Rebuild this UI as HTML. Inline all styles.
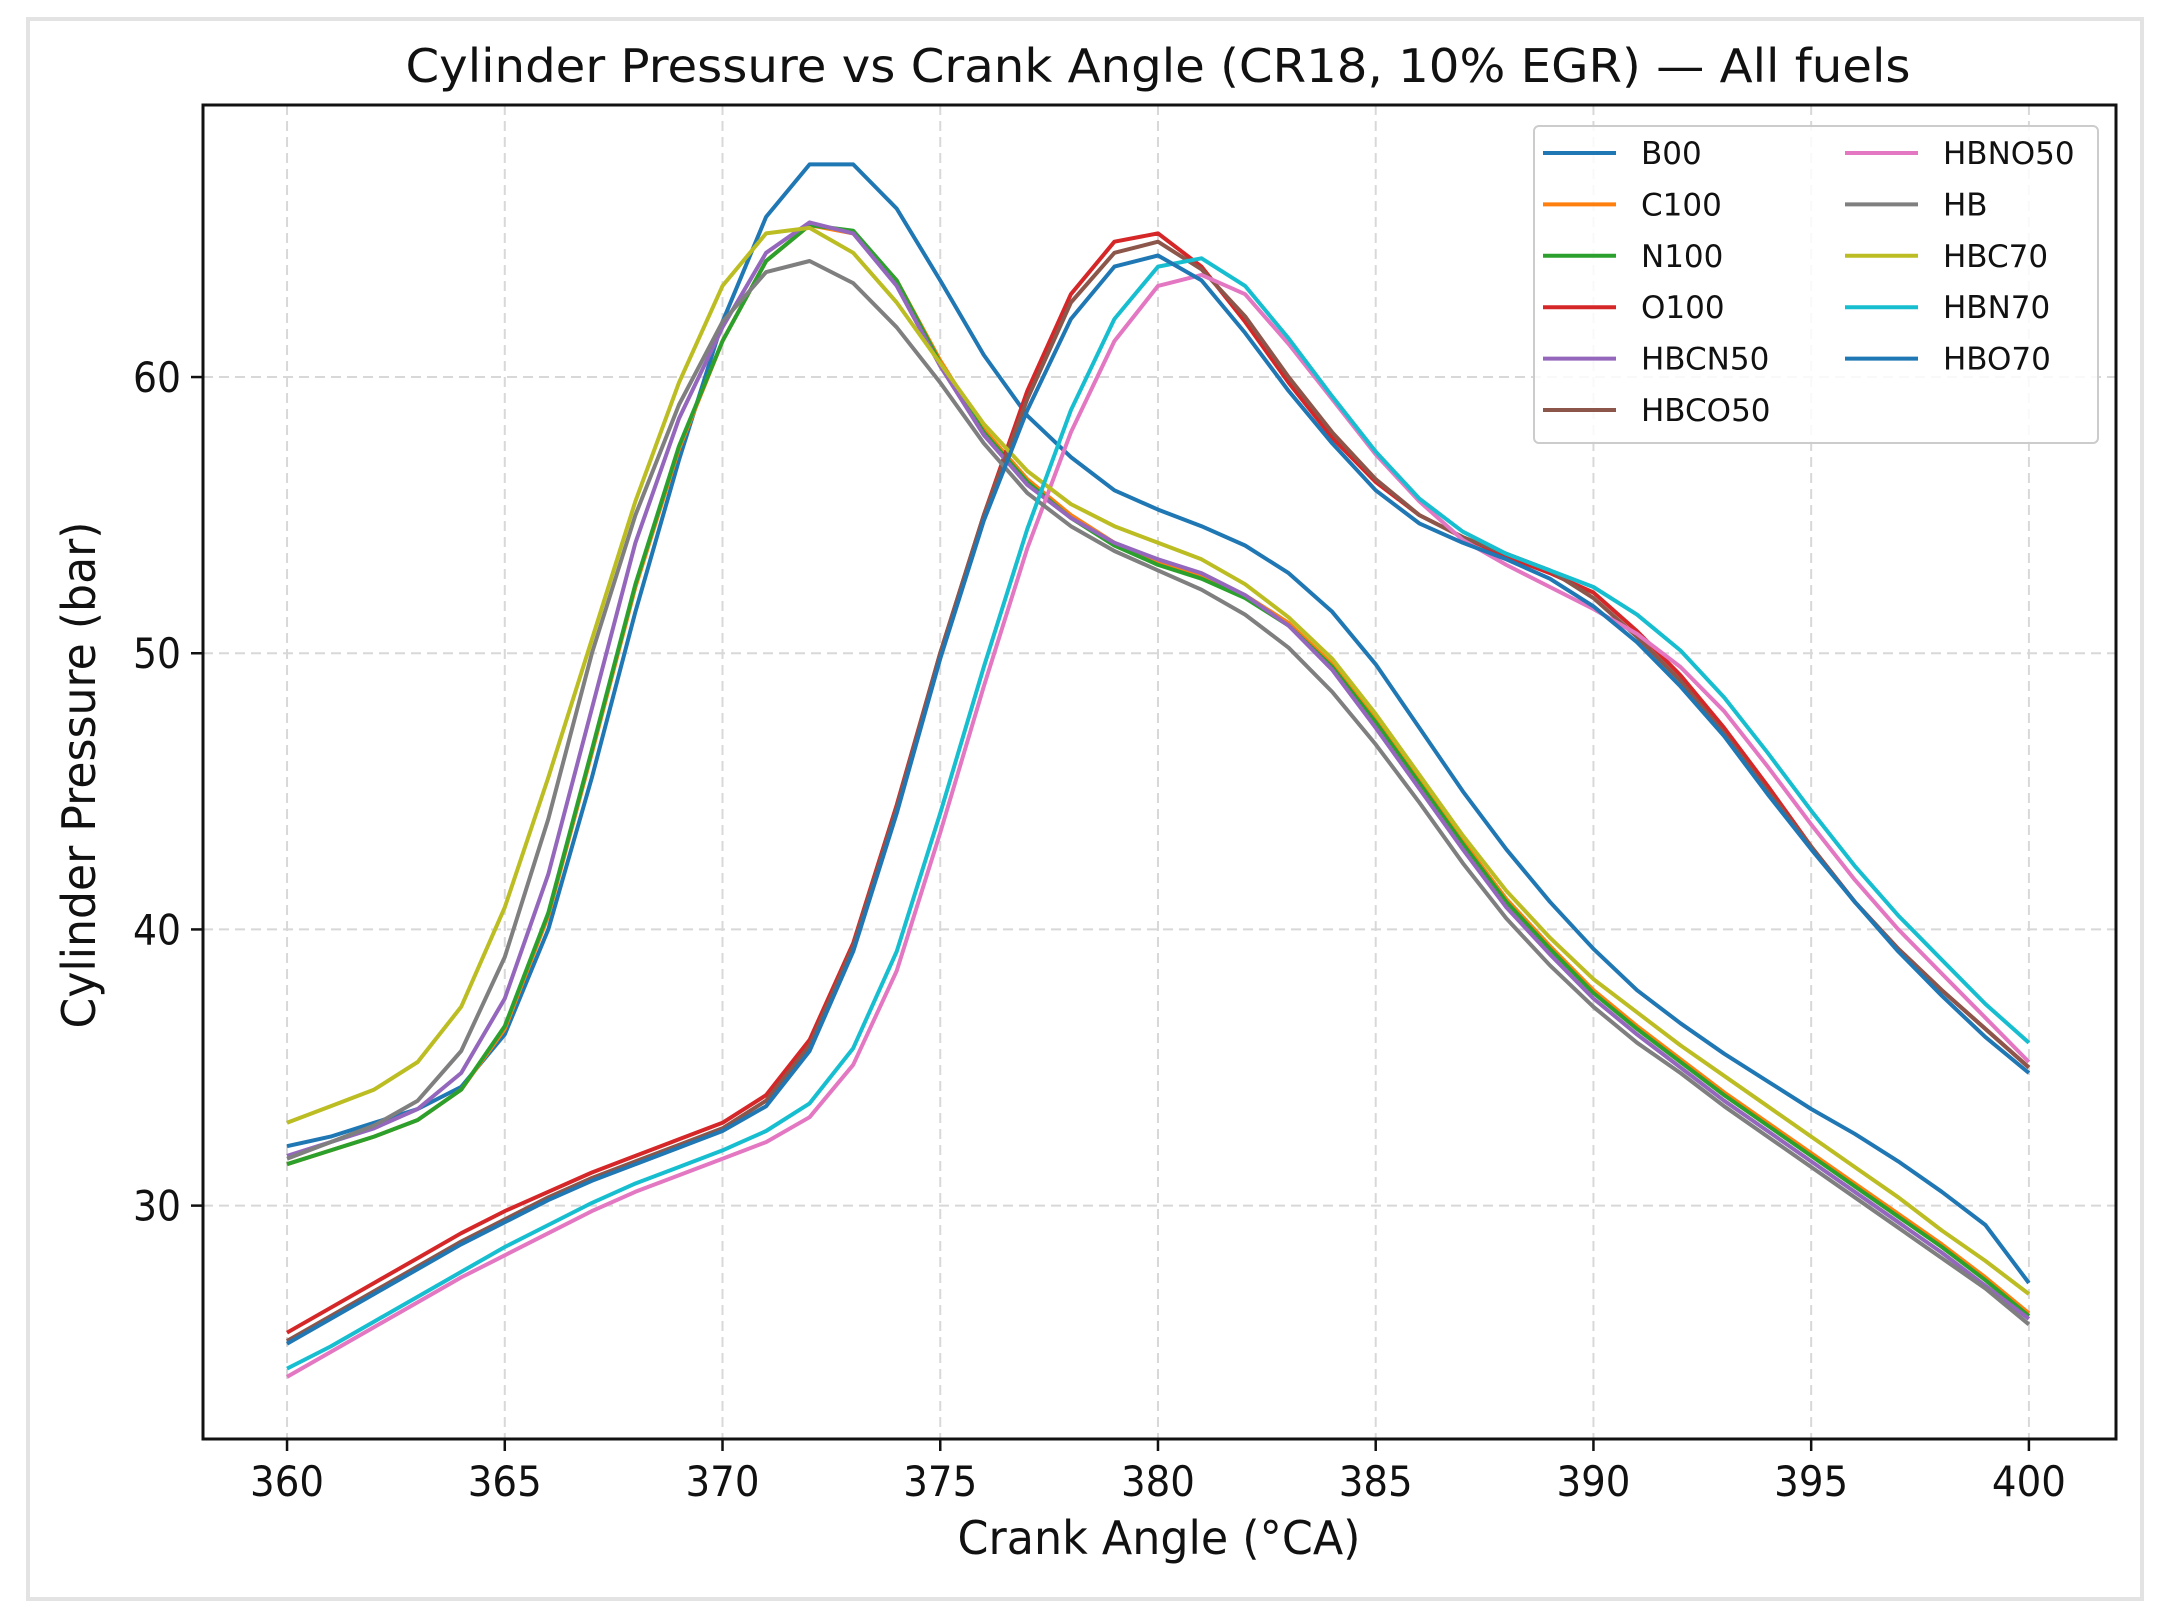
<!DOCTYPE html>
<html><head><meta charset="utf-8"><style>
html,body{margin:0;padding:0;background:#fff;}
svg{display:block;font-family:"DejaVu Sans","Liberation Sans",sans-serif;}
</style></head><body>
<svg id="chart" width="2159" height="1617" viewBox="0 0 2159 1617">
<rect x="28" y="19" width="2114" height="1580" fill="#fff" stroke="#e3e3e3" stroke-width="4"/>
<text x="1158" y="82" text-anchor="middle" font-size="46" textLength="1505" lengthAdjust="spacingAndGlyphs" fill="#111">Cylinder Pressure vs Crank Angle (CR18, 10% EGR) — All fuels</text>
<g id="grid"></g>
<g id="series"></g>
<rect x="203" y="105" width="1913" height="1334" fill="none" stroke="#111" stroke-width="3"/>
<g id="ticks"></g>
<text x="1159" y="1554" text-anchor="middle" font-size="46" textLength="403" lengthAdjust="spacingAndGlyphs" fill="#111">Crank Angle (°CA)</text>
<text transform="translate(95,775) rotate(-90)" text-anchor="middle" font-size="46" textLength="507" lengthAdjust="spacingAndGlyphs" fill="#111">Cylinder Pressure (bar)</text>
<g id="legend"></g>
</svg>
<script>
const angles=[];for(let a=360;a<=400;a++)angles.push(a);
const xTicks=[360,365,370,375,380,385,390,395,400];
const yTicks=[30,40,50,60];
const seriesNames=["B00","C100","N100","O100","HBCN50","HBCO50","HBNO50","HB","HBC70","HBN70","HBO70"];
const seriesColors=["#1f77b4","#ff7f0e","#2ca02c","#d62728","#9467bd","#8c564b","#e377c2","#7f7f7f","#bcbd22","#17becf","#1f77b4"];
const B00=[32.15,32.5,33.0,33.5,34.3,36.2,40,45.5,51.5,57,62,65.8,67.7,67.7,66.1,63.5,60.8,58.6,57.1,55.9,55.2,54.6,53.9,52.9,51.5,49.6,47.3,45,42.9,41.0,39.3,37.8,36.6,35.5,34.5,33.5,32.6,31.6,30.5,29.3,27.2];
const C100=[31.5,32.0,32.5,33.1,34.2,36.4,40.5,46.4,52.4,57.4,61.3,64.2,65.5,65.2,63.5,60.6,58.1,56.3,55.0,54.0,53.3,52.8,52.1,51.1,49.6,47.6,45.4,43.2,41.1,39.4,37.8,36.5,35.3,34.1,33.0,31.9,30.8,29.7,28.6,27.4,26.1];
const N100=[31.5,32.0,32.5,33.1,34.2,36.5,40.6,46.5,52.5,57.5,61.3,64.2,65.5,65.3,63.5,60.5,58.0,56.2,54.9,53.9,53.2,52.7,52.0,51.0,49.5,47.5,45.3,43.1,41.0,39.3,37.7,36.4,35.2,34.0,32.9,31.8,30.7,29.6,28.5,27.3,26.0];
const O100=[25.4,26.3,27.2,28.1,29.0,29.8,30.5,31.2,31.8,32.4,33.0,34.0,36.0,39.5,44.5,50,55,59.5,63,64.9,65.2,64,62,59.8,57.8,56.2,55.0,54.2,53.5,52.9,52.2,50.8,49.2,47.3,45.2,43.0,41.0,39.3,37.8,36.4,35.0];
const HBCN50=[31.8,32.3,32.8,33.5,34.8,37.5,42,48,54,58.5,61.8,64.5,65.6,65.2,63.3,60.4,57.9,56.1,54.9,54.0,53.4,52.9,52.1,51.0,49.4,47.3,45.1,42.9,40.8,39.1,37.5,36.2,35.0,33.8,32.7,31.6,30.5,29.4,28.3,27.1,25.9];
const HBCO50=[25.1,26.0,26.9,27.8,28.7,29.5,30.3,31.0,31.6,32.2,32.8,33.8,35.8,39.4,44.4,50,55,59.2,62.7,64.5,64.9,63.9,62.2,60.0,58.0,56.3,55.0,54.2,53.6,53.0,52.0,50.6,49.0,47.1,45.0,43.0,41.0,39.3,37.8,36.4,35.0];
const HBNO50=[23.8,24.7,25.6,26.5,27.4,28.2,29.0,29.8,30.5,31.1,31.7,32.3,33.2,35.1,38.5,43.5,48.8,53.8,58.0,61.3,63.3,63.7,63.0,61.2,59.2,57.2,55.5,54.1,53.2,52.4,51.6,50.7,49.5,47.9,45.9,43.8,41.8,40.0,38.4,36.8,35.2];
const HB=[31.7,32.3,32.9,33.8,35.6,39.0,44,50,55,59,62,63.8,64.2,63.4,61.8,59.8,57.6,55.8,54.6,53.7,53.0,52.3,51.4,50.2,48.6,46.7,44.6,42.4,40.4,38.7,37.2,35.9,34.8,33.6,32.5,31.4,30.3,29.2,28.1,27.0,25.7];
const HBC70=[33.0,33.6,34.2,35.2,37.2,40.8,45.5,50.5,55.5,59.8,63.3,65.2,65.4,64.5,62.7,60.5,58.3,56.6,55.4,54.6,54.0,53.4,52.5,51.3,49.8,47.8,45.6,43.4,41.4,39.7,38.2,37.0,35.8,34.7,33.6,32.5,31.4,30.3,29.1,28.0,26.8];
const HBN70=[24.1,24.9,25.8,26.7,27.6,28.5,29.3,30.1,30.8,31.4,32.0,32.7,33.7,35.7,39.2,44.2,49.5,54.5,58.8,62.1,64.0,64.3,63.3,61.4,59.3,57.3,55.6,54.4,53.6,53.0,52.4,51.4,50.1,48.4,46.4,44.3,42.3,40.5,38.9,37.3,35.9];
const HBO70=[25.0,25.9,26.8,27.7,28.6,29.4,30.2,30.9,31.5,32.1,32.7,33.6,35.6,39.2,44.2,49.8,54.8,58.8,62.1,64.0,64.4,63.5,61.6,59.5,57.6,55.9,54.7,54.0,53.4,52.7,51.7,50.4,48.8,47.0,44.9,42.9,41.0,39.2,37.6,36.1,34.8];
const seriesValues=[B00,C100,N100,O100,HBCN50,HBCO50,HBNO50,HB,HBC70,HBN70,HBO70];

const NS="http://www.w3.org/2000/svg";
const L=203,R=2116,T=105,Bm=1439;
const xMin=358.07,xMax=402.0,yMin=21.55,yMax=69.85;
function xs(v){return L+(v-xMin)/(xMax-xMin)*(R-L);}
function ys(v){return Bm-(v-yMin)/(yMax-yMin)*(Bm-T);}
function mk(tag,attrs,parent){const e=document.createElementNS(NS,tag);for(const k in attrs)e.setAttribute(k,attrs[k]);parent.appendChild(e);return e;}
const grid=document.getElementById('grid'),ticks=document.getElementById('ticks'),ser=document.getElementById('series'),leg=document.getElementById('legend');
xTicks.forEach(t=>{
  const x=xs(t);
  const g=mk('line',{x1:x,x2:x,y1:T,y2:Bm,stroke:'#d8d8d8','stroke-width':2,'stroke-dasharray':'10,6'},grid);
  
  
  const tk=mk('line',{x1:x,x2:x,y1:Bm,y2:Bm+12,stroke:'#111','stroke-width':2.5},ticks);
  
  
  const tx=mk('text',{x:x,y:Bm+57,'text-anchor':'middle','font-size':42,textLength:74,lengthAdjust:'spacingAndGlyphs',fill:'#111'},ticks);
  tx.textContent=t;
  
  
});
yTicks.forEach(t=>{
  const y=ys(t);
  const g=mk('line',{x1:L,x2:R,y1:y,y2:y,stroke:'#d8d8d8','stroke-width':2,'stroke-dasharray':'10,6'},grid);
  
  
  const tk=mk('line',{x1:L-12,x2:L,y1:y,y2:y,stroke:'#111','stroke-width':2.5},ticks);
  
  
  const tx=mk('text',{x:L-22,y:y+15,'text-anchor':'end','font-size':42,textLength:48,lengthAdjust:'spacingAndGlyphs',fill:'#111'},ticks);
  tx.textContent=t;
  
  
});
seriesValues.forEach((vals,i)=>{
  const d=vals.map((v,j)=>(j?'L':'M')+xs(angles[j]).toFixed(1)+','+ys(v).toFixed(1)).join('');
  const p=mk('path',{d:d,fill:'none',stroke:seriesColors[i],'stroke-width':4,'stroke-linejoin':'round'},ser);
  
  
});
const lb=mk('rect',{x:1534,y:126,width:564,height:317,rx:5,fill:'#fff','fill-opacity':0.85,stroke:'#ccc','stroke-width':2},leg);


seriesNames.forEach((n,i)=>{
  const col=i<6?0:1,row=i<6?i:i-6;
  const y=153+row*51.4;
  const x0=col?1845:1543;
  const ln=mk('line',{x1:x0,x2:x0+73,y1:y,y2:y,stroke:seriesColors[i],'stroke-width':4},leg);
  
  
  const tx=mk('text',{x:x0+98,y:y+11,'font-size':31,fill:'#111'},leg);
  tx.textContent=n;
  
  
});
</script>
</body></html>
